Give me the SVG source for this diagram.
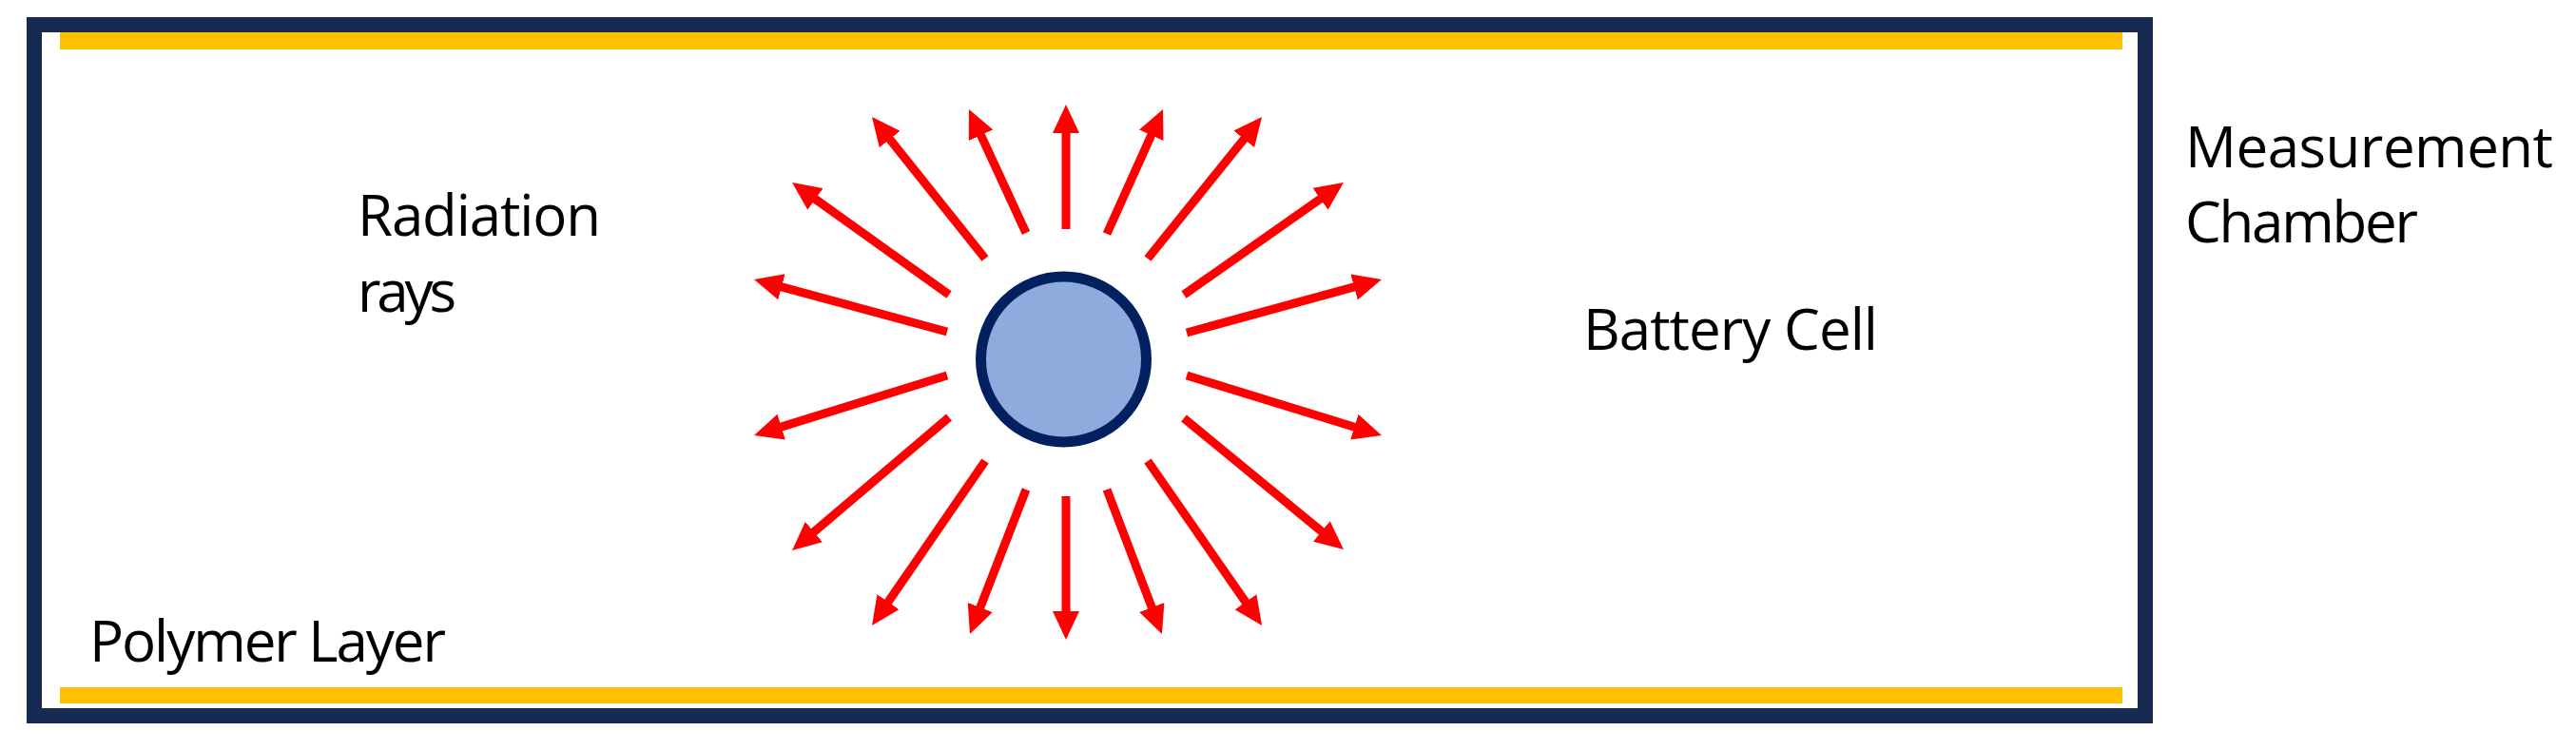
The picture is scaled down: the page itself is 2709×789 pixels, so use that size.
<svg xmlns="http://www.w3.org/2000/svg" width="2709" height="789" viewBox="0 0 2709 789">
  <style>
    .lbl { font-family: "Open Sans", "Liberation Sans", sans-serif; font-size: 60px; fill: #000000; }
    .ray { stroke: #FF0000; stroke-width: 9; fill: none; marker-end: url(#head); }
    .poly { fill: #FFC000; }
  </style>
  <defs>
    <marker id="head" viewBox="0 0 30 28" markerWidth="30" markerHeight="28" refX="18" refY="14" orient="auto" markerUnits="userSpaceOnUse">
      <path d="M0,0 L30,14 L0,28 z" fill="#FF0000"/>
    </marker>
  </defs>
  <rect x="0" y="0" width="2709" height="789" fill="#FFFFFF"/>

  <g id="chamber">
    <rect x="36" y="26" width="2220" height="727" fill="none" stroke="#172B52" stroke-width="16"/>
    <text class="lbl" x="2298" y="176" textLength="387">Measurement</text>
    <text class="lbl" x="2298" y="255" textLength="245">Chamber</text>
  </g>

  <g id="polymer-layer">
    <rect class="poly" x="63" y="34" width="2169" height="18"/>
    <rect class="poly" x="63" y="723" width="2169" height="17"/>
    <text class="lbl" x="94" y="696" textLength="375">Polymer Layer</text>
  </g>

  <g id="battery-cell">
    <circle cx="1118.5" cy="378" r="87" fill="#8FAADC" stroke="#002060" stroke-width="11"/>
    <text class="lbl" x="1665" y="368" textLength="310">Battery Cell</text>
  </g>

  <g id="radiation-label">
    <text class="lbl" x="376" y="248" textLength="256">Radiation</text>
    <text class="lbl" x="376" y="328" textLength="104">rays</text>
  </g>

  <g id="connectors">
    <path class="ray" d="M1121,241 L1121,122"/>
    <path class="ray" d="M1164,246 L1218.1,125.9"/>
    <path class="ray" d="M1079,245 L1024,125.9"/>
    <path class="ray" d="M1036,272 L924.5,132.4"/>
    <path class="ray" d="M1207,272 L1319.5,132.3"/>
    <path class="ray" d="M998,310 L842.8,199"/>
    <path class="ray" d="M1245,310 L1403.2,198.9"/>
    <path class="ray" d="M996,349 L804.6,297.1"/>
    <path class="ray" d="M1248,350 L1441.4,297.2"/>
    <path class="ray" d="M996,395 L804.5,454.4"/>
    <path class="ray" d="M998,439 L842.2,571.2"/>
    <path class="ray" d="M1036,485 L923.8,648.1"/>
    <path class="ray" d="M1079,515 L1024.3,655.8"/>
    <path class="ray" d="M1121,522 L1121,661"/>
    <path class="ray" d="M1164,515 L1217.7,655.8"/>
    <path class="ray" d="M1207,485 L1320.2,648.1"/>
    <path class="ray" d="M1245,440 L1403.7,570.4"/>
    <path class="ray" d="M1248,395 L1441.5,454.5"/>
  </g>
</svg>
